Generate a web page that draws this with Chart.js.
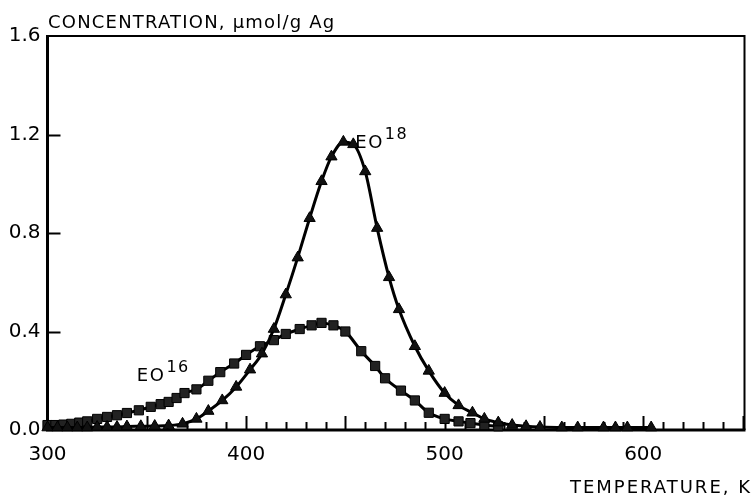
<!DOCTYPE html>
<html>
<head>
<meta charset="utf-8">
<script src="https://cdn.jsdelivr.net/npm/chart.js@4/dist/chart.umd.min.js"></script>
<style>
  html, body { margin: 0; padding: 0; background: #fff; }
  canvas { display: block; }
</style>
</head>
<body>
<canvas id="chart" width="752" height="496"></canvas>
<script>
// EO18 desorption (triangles)
const eo18Temp = [300, 305, 310, 315, 320, 325, 330, 335, 340, 347, 354, 361, 368, 375, 381, 388, 395, 402, 408, 414, 420, 426, 432, 438, 443, 449, 454, 460, 466, 472, 477, 485, 492, 500, 507, 514, 520, 527, 534, 541, 548, 559, 567, 580, 586, 592, 604];
const eo18Conc = [0.01, 0.01, 0.01, 0.01, 0.01, 0.012, 0.012, 0.012, 0.014, 0.015, 0.016, 0.018, 0.025, 0.045, 0.077, 0.12, 0.175, 0.245, 0.31, 0.41, 0.55, 0.70, 0.86, 1.01, 1.11, 1.17, 1.16, 1.05, 0.82, 0.62, 0.49, 0.34, 0.24, 0.15, 0.10, 0.07, 0.045, 0.03, 0.02, 0.015, 0.012, 0.01, 0.01, 0.01, 0.01, 0.01, 0.01];

// EO16 desorption (squares)
const eo16Temp = [300, 304, 308, 312, 316, 320, 325, 330, 335, 340, 346, 352, 357, 361, 365, 369, 375, 381, 387, 394, 400, 407, 414, 420, 427, 433, 438, 444, 450, 458, 465, 470, 478, 485, 492, 500, 507, 513, 520, 527];
const eo16Conc = [0.02, 0.02, 0.022, 0.025, 0.03, 0.035, 0.045, 0.053, 0.06, 0.069, 0.08, 0.094, 0.105, 0.114, 0.13, 0.15, 0.165, 0.2, 0.235, 0.27, 0.305, 0.34, 0.365, 0.39, 0.41, 0.425, 0.435, 0.425, 0.40, 0.32, 0.26, 0.21, 0.16, 0.12, 0.07, 0.045, 0.035, 0.028, 0.02, 0.015];

const xTickLabels = [300, 400, 500, 600];
const yTickLabels = [0, 0.4, 0.8, 1.2, 1.6];

function pairs(xs, ys) {
  return xs.map((x, i) => ({ x: x, y: ys[i] }));
}

// frame, inward tick marks and the text annotations
const framePlugin = {
  id: 'frame',
  beforeDatasetsDraw(chart) {
    const ctx = chart.ctx;
    const a = chart.chartArea;
    const xs = chart.scales.x, ys = chart.scales.y;
    ctx.save();
    ctx.strokeStyle = '#000';
    // x ticks every 10 K, longer every 50 K
    ctx.lineWidth = 2;
    for (let t = 310; t < xs.max; t += 10) {
      const px = Math.round(xs.getPixelForValue(t)) + 0.5;
      const len = t % 50 === 0 ? 14 : 8;
      ctx.beginPath();
      ctx.moveTo(px, a.bottom);
      ctx.lineTo(px, a.bottom - len);
      ctx.stroke();
    }
    // y ticks
    yTickLabels.slice(1, -1).forEach(v => {
      const py = Math.round(ys.getPixelForValue(v)) + 0.5;
      ctx.beginPath();
      ctx.moveTo(a.left, py);
      ctx.lineTo(a.left + 13, py);
      ctx.stroke();
    });
    // top and right border
    ctx.lineWidth = 2;
    ctx.beginPath();
    ctx.moveTo(a.left, a.top);
    ctx.lineTo(a.right, a.top);
    ctx.lineTo(a.right, a.bottom);
    ctx.stroke();
    // left and bottom axis
    ctx.lineWidth = 3;
    ctx.beginPath();
    ctx.moveTo(a.left, a.top - 1);
    ctx.lineTo(a.left, a.bottom);
    ctx.lineTo(a.right + 1, a.bottom);
    ctx.stroke();
    ctx.restore();
  },
  afterDraw(chart) {
    const ctx = chart.ctx;
    const xs = chart.scales.x, ys = chart.scales.y;
    ctx.save();
    ctx.fillStyle = '#000';
    ctx.textBaseline = 'alphabetic';
    ctx.letterSpacing = '1.2px';
    ctx.font = '18px "DejaVu Sans"';
    ctx.fillText('CONCENTRATION, \u03bcmol/g Ag', 48, 28);
    ctx.textAlign = 'right';
    ctx.letterSpacing = '2px';
    ctx.fillText('TEMPERATURE, K', 752, 493);

    function label(sup, t, c) {
      const x = xs.getPixelForValue(t);
      const y = ys.getPixelForValue(c);
      ctx.textAlign = 'left';
      ctx.letterSpacing = '1.5px';
      ctx.font = '18px "DejaVu Sans"';
      ctx.fillText('EO', x, y);
      const w = ctx.measureText('EO').width;
      ctx.font = '16px "DejaVu Sans"';
      ctx.fillText(sup, x + w + 1, y - 9);
    }
    label('16', 345, 0.2);
    label('18', 455, 1.145);
    ctx.restore();
  }
};

new Chart(document.getElementById('chart'), {
  type: 'scatter',
  data: {
    datasets: [
      {
        label: 'EO18',
        data: pairs(eo18Temp, eo18Conc),
        showLine: true,
        cubicInterpolationMode: 'monotone',
        borderColor: '#000',
        borderWidth: 3,
        pointStyle: 'triangle',
        pointRadius: 6.5,
        pointBackgroundColor: '#111',
        pointBorderColor: '#000',
        pointBorderWidth: 1,
        clip: false
      },
      {
        label: 'EO16',
        data: pairs(eo16Temp, eo16Conc),
        showLine: true,
        cubicInterpolationMode: 'monotone',
        borderColor: '#000',
        borderWidth: 3,
        pointStyle: 'rect',
        pointRadius: 6.5,
        pointBackgroundColor: '#222',
        pointBorderColor: '#000',
        pointBorderWidth: 1,
        clip: false
      }
    ]
  },
  options: {
    responsive: false,
    animation: false,
    layout: { padding: { top: 36, right: 1, left: 0, bottom: 0 } },
    plugins: {
      legend: { display: false },
      tooltip: { enabled: false }
    },
    scales: {
      x: {
        type: 'linear',
        min: 300,
        max: 651,
        afterBuildTicks: s => { s.ticks = xTickLabels.map(v => ({ value: v })); },
        afterFit: s => { s.height = 66; },
        grid: { display: false, drawTicks: false },
        border: { display: false },
        ticks: {
          color: '#000',
          padding: 13,
          maxRotation: 0,
          font: { family: 'DejaVu Sans', size: 20 }
        }
      },
      y: {
        min: 0,
        max: 1.6,
        afterBuildTicks: s => { s.ticks = yTickLabels.map(v => ({ value: v })); },
        afterFit: s => { s.width = 47.5; },
        grid: { display: false, drawTicks: false },
        border: { display: false },
        ticks: {
          color: '#000',
          padding: 7,
          font: { family: 'DejaVu Sans', size: 20 },
          callback: v => v.toFixed(1)
        }
      }
    }
  },
  plugins: [framePlugin]
});
</script>
</body>
</html>
